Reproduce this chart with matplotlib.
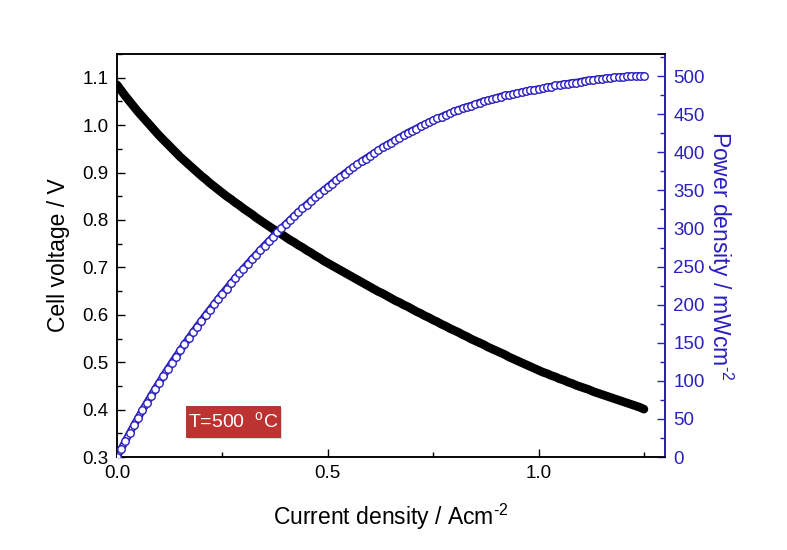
import matplotlib
matplotlib.use("Agg")
import matplotlib.pyplot as plt
from matplotlib.ticker import MultipleLocator, FormatStrFormatter
from matplotlib.patches import Rectangle

plt.rcParams['font.family'] = ['Liberation Sans', 'DejaVu Sans']
plt.rcParams['mathtext.fontset'] = 'custom'
plt.rcParams['mathtext.rm'] = 'Liberation Sans'

current = [0.00, 0.01, 0.02, 0.03, 0.04, 0.05, 0.06, 0.07, 0.08, 0.09,
           0.10, 0.11, 0.12, 0.13, 0.14, 0.15, 0.16, 0.17, 0.18, 0.19,
           0.20, 0.21, 0.22, 0.23, 0.24, 0.25, 0.26, 0.27, 0.28, 0.29,
           0.30, 0.31, 0.32, 0.33, 0.34, 0.35, 0.36, 0.37, 0.38, 0.39,
           0.40, 0.41, 0.42, 0.43, 0.44, 0.45, 0.46, 0.47, 0.48, 0.49,
           0.50, 0.51, 0.52, 0.53, 0.54, 0.55, 0.56, 0.57, 0.58, 0.59,
           0.60, 0.61, 0.62, 0.63, 0.64, 0.65, 0.66, 0.67, 0.68, 0.69,
           0.70, 0.71, 0.72, 0.73, 0.74, 0.75, 0.76, 0.77, 0.78, 0.79,
           0.80, 0.81, 0.82, 0.83, 0.84, 0.85, 0.86, 0.87, 0.88, 0.89,
           0.90, 0.91, 0.92, 0.93, 0.94, 0.95, 0.96, 0.97, 0.98, 0.99,
           1.00, 1.01, 1.02, 1.03, 1.04, 1.05, 1.06, 1.07, 1.08, 1.09,
           1.10, 1.11, 1.12, 1.13, 1.14, 1.15, 1.16, 1.17, 1.18, 1.19,
           1.20, 1.21, 1.22, 1.23, 1.24, 1.25]

voltage = [1.085, 1.073, 1.061, 1.050, 1.039, 1.028, 1.018, 1.008, 0.998, 0.988,
           0.978, 0.969, 0.960, 0.951, 0.942, 0.933, 0.925, 0.917, 0.909, 0.901,
           0.893, 0.886, 0.878, 0.871, 0.864, 0.857, 0.850, 0.844, 0.837, 0.831,
           0.824, 0.818, 0.812, 0.805, 0.799, 0.793, 0.787, 0.781, 0.776, 0.770,
           0.764, 0.758, 0.753, 0.747, 0.742, 0.736, 0.731, 0.725, 0.720, 0.714,
           0.709, 0.704, 0.699, 0.694, 0.689, 0.684, 0.679, 0.674, 0.669, 0.664,
           0.659, 0.654, 0.649, 0.645, 0.640, 0.635, 0.630, 0.626, 0.621, 0.617,
           0.612, 0.607, 0.603, 0.598, 0.594, 0.589, 0.585, 0.580, 0.576, 0.571,
           0.567, 0.563, 0.558, 0.554, 0.549, 0.545, 0.541, 0.537, 0.532, 0.528,
           0.524, 0.520, 0.516, 0.511, 0.507, 0.503, 0.499, 0.495, 0.491, 0.487,
           0.483, 0.479, 0.476, 0.472, 0.469, 0.465, 0.462, 0.458, 0.455, 0.451,
           0.448, 0.445, 0.442, 0.438, 0.435, 0.432, 0.429, 0.426, 0.423, 0.420,
           0.417, 0.414, 0.411, 0.408, 0.405, 0.401]

power = [0.0, 10.7, 21.2, 31.5, 41.6, 51.4, 61.1, 70.6, 79.8, 88.9,
         97.8, 106.6, 115.2, 123.6, 131.9, 140.0, 148.0, 155.9, 163.6, 171.2,
         178.6, 186.1, 193.2, 200.3, 207.4, 214.3, 221.0, 227.9, 234.4, 241.0,
         247.2, 253.6, 259.8, 265.7, 271.7, 277.6, 283.3, 289.0, 294.9, 300.3,
         305.6, 310.8, 316.3, 321.2, 326.5, 331.2, 336.3, 340.8, 345.6, 349.9,
         354.5, 359.0, 363.5, 367.8, 372.1, 376.2, 380.2, 384.2, 388.0, 391.8,
         395.4, 398.9, 402.4, 406.4, 409.6, 412.8, 415.8, 419.4, 422.3, 425.7,
         428.4, 431.0, 434.2, 436.5, 439.6, 441.8, 444.6, 446.6, 449.3, 451.1,
         453.6, 456.0, 457.6, 459.8, 461.2, 463.3, 465.3, 467.2, 468.2, 469.9,
         471.6, 473.2, 474.7, 475.2, 476.6, 477.9, 479.0, 480.2, 481.2, 482.1,
         483.0, 483.8, 485.5, 486.2, 487.8, 488.3, 489.7, 490.1, 491.4, 491.6,
         492.8, 494.0, 494.5, 495.2, 495.9, 496.6, 497.2, 497.8, 498.3, 498.8,
         499.2, 499.5, 499.8, 500.0, 500.1, 500.2]

x_ticks = [0.0, 0.5, 1.0]
v_ticks = [0.3, 0.4, 0.5, 0.6, 0.7, 0.8, 0.9, 1.0, 1.1]
p_ticks = [0, 50, 100, 150, 200, 250, 300, 350, 400, 450, 500]

BLUE = '#2a1fc0'
TICK_FS = 13.5
LABEL_FS = 16.5

fig = plt.figure(figsize=(7.87, 5.5), dpi=100)
ax = fig.add_axes([0.1487, 0.169, 0.6963, 0.7328])
ax2 = ax.twinx()

ax.plot(current, voltage, color='black', lw=6.2, solid_capstyle='round',
        solid_joinstyle='round', zorder=3)

# power: chain of hollow circles
ax2.plot(current, power, color=BLUE, lw=5.4, solid_capstyle='round', zorder=2)
ax2.plot(current, power, color='white', lw=2.8, solid_capstyle='round', zorder=2.1)
ax2.plot(current, power, linestyle='none', marker='o', ms=5.4,
         markerfacecolor='white', markeredgecolor=BLUE, markeredgewidth=1.0, zorder=3)

ax.set_xlim(0, 1.3)
ax.set_ylim(0.3, 1.15)
ax2.set_ylim(0, 529)

ax.set_xticks(x_ticks)
ax.xaxis.set_minor_locator(MultipleLocator(0.25))
ax.set_yticks(v_ticks)
ax.yaxis.set_minor_locator(MultipleLocator(0.05))
ax.xaxis.set_major_formatter(FormatStrFormatter('%.1f'))
ax.yaxis.set_major_formatter(FormatStrFormatter('%.1f'))
ax2.set_yticks(p_ticks)
ax2.yaxis.set_minor_locator(MultipleLocator(25))

for a in (ax, ax2):
    for s in a.spines.values():
        s.set_linewidth(1.1)
ax2.spines['right'].set_color(BLUE)

ax.tick_params(axis='both', which='major', direction='in', length=6, width=1.0,
               labelsize=TICK_FS, top=False, right=False, pad=6)
ax.tick_params(axis='both', which='minor', direction='in', length=3.5, width=1.0,
               top=False, right=False)
ax2.tick_params(axis='y', which='major', direction='in', length=6, width=1.0,
                labelsize=TICK_FS, colors=BLUE, pad=6)
ax2.tick_params(axis='y', which='minor', direction='in', length=3.5, width=1.0,
                colors=BLUE)

ax.set_xlabel('Current density / Acm$^{\\text{-2}}$', fontsize=LABEL_FS, labelpad=14)
ax.set_ylabel('Cell voltage / V', fontsize=LABEL_FS, labelpad=9)
ax2.set_ylabel('Power density / mWcm$^{\\text{-2}}$', fontsize=LABEL_FS,
               color=BLUE, rotation=270, labelpad=22)

# temperature tag
ax.add_patch(Rectangle((0.130, 0.045), 0.171, 0.077, transform=ax.transAxes,
                       facecolor='#999999', alpha=0.35, edgecolor='none', zorder=4))
ax.add_patch(Rectangle((0.126, 0.0496), 0.171, 0.077, transform=ax.transAxes,
                       facecolor='#bd3331', edgecolor='#a62826', lw=0.6, zorder=5))
ax.text(0.2115, 0.088, 'T=500  $^{\\text{o}}$C', transform=ax.transAxes,
        fontsize=14, color='white', ha='center', va='center', zorder=6)

fig.savefig('out.png', dpi=100)
